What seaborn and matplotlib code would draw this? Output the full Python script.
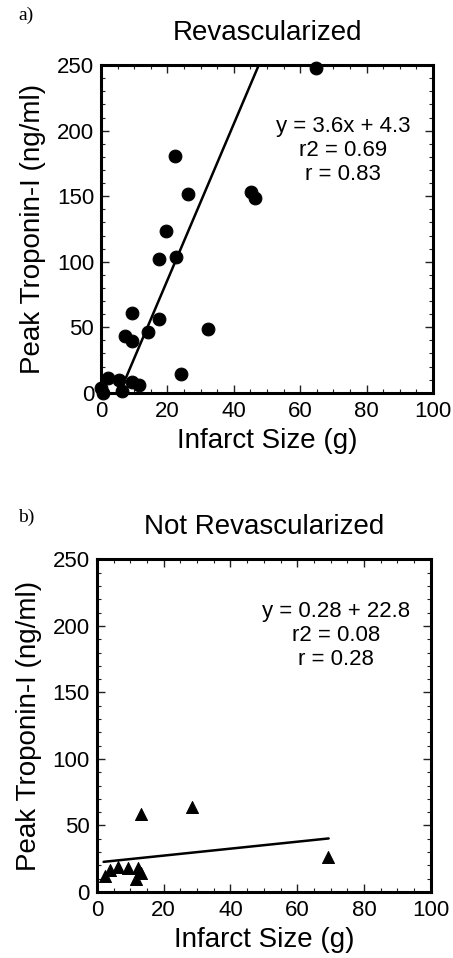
import matplotlib
matplotlib.use("Agg")
import matplotlib.pyplot as plt
from matplotlib.ticker import MultipleLocator
import seaborn as sns
import pandas as pd

# Panel a - revascularized (infarct size g, peak troponin-I ng/ml)
rev_size = [64.7, 22.3, 26.3, 45.1, 46.5, 19.7, 17.6, 22.5, 9.4, 17.6, 14.2, 7.2,
            9.2, 32.3, 24.1, 2.2, 5.5, 9.2, 11.5, 6.2, 0.0, 0.5]
rev_trop = [247.5, 180.7, 151.8, 153.0, 149.0, 123.6, 102.3, 103.6, 60.9, 56.3, 46.2, 43.1,
            39.8, 48.7, 14.0, 11.4, 9.4, 8.4, 6.3, 1.3, 3.8, 0.0]
rev_fit_x = [7.5, 47.5]
rev_fit_y = [11.4, 250.0]
rev_text = "y = 3.6x + 4.3\nr2 = 0.69\nr = 0.83"

# Panel b - not revascularized
norev_size = [13.3, 28.6, 69.1, 2.3, 3.8, 6.3, 9.3, 12.3, 13.1, 11.8]
norev_trop = [58.3, 63.6, 25.9, 12.0, 16.8, 18.8, 18.0, 18.3, 14.3, 10.0]
norev_fit_x = [2.0, 69.4]
norev_fit_y = [22.6, 40.2]
norev_text = "y = 0.28 + 22.8\nr2 = 0.08\nr = 0.28"

sns.set_style("ticks")
plt.rcParams["font.family"] = ["Liberation Sans", "DejaVu Sans"]
plt.rcParams["text.color"] = "black"
plt.rcParams["axes.labelcolor"] = "black"
plt.rcParams["xtick.color"] = "black"
plt.rcParams["ytick.color"] = "black"

fig = plt.figure(figsize=(4.53, 9.58), dpi=100)
ax_a = fig.add_axes([0.223, 0.590, 0.733, 0.342])
ax_b = fig.add_axes([0.214, 0.069, 0.737, 0.347])


def style_axes(ax, title):
    ax.set_xlim(0, 100)
    ax.set_ylim(0, 250)
    ax.xaxis.set_major_locator(MultipleLocator(20))
    ax.xaxis.set_minor_locator(MultipleLocator(5))
    ax.yaxis.set_major_locator(MultipleLocator(50))
    ax.yaxis.set_minor_locator(MultipleLocator(10))
    ax.tick_params(which="both", direction="in", top=True, right=True, color="#222222",
                   labelcolor="black")
    ax.tick_params(which="major", length=6, width=1, labelsize=16)
    ax.tick_params(axis="x", which="major", pad=6)
    ax.tick_params(axis="y", which="major", pad=5)
    ax.tick_params(which="minor", length=3, width=0.8)
    for sp in ax.spines.values():
        sp.set_linewidth(2.2)
        sp.set_color("black")
    ax.set_xlabel("Infarct Size (g)", fontsize=20, labelpad=4, color="black")
    ax.set_ylabel("Peak Troponin-I (ng/ml)", fontsize=20, labelpad=8, color="black")
    ax.set_title(title, fontsize=20, pad=18, color="black")


df_a = pd.DataFrame({"size": rev_size, "trop": rev_trop})
sns.scatterplot(data=df_a, x="size", y="trop", ax=ax_a, color="black", marker="o",
                s=85, edgecolor="black", clip_on=False, zorder=3)
sns.lineplot(x=rev_fit_x, y=rev_fit_y, ax=ax_a, color="black", linewidth=1.8)
ax_a.text(73, 185, rev_text, ha="center", va="center", fontsize=16, linespacing=1.2)
style_axes(ax_a, "Revascularized")

df_b = pd.DataFrame({"size": norev_size, "trop": norev_trop})
sns.scatterplot(data=df_b, x="size", y="trop", ax=ax_b, color="black", marker="^",
                s=75, edgecolor="black", clip_on=False, zorder=3)
sns.lineplot(x=norev_fit_x, y=norev_fit_y, ax=ax_b, color="black", linewidth=1.8)
ax_b.text(71.5, 193, norev_text, ha="center", va="center", fontsize=16, linespacing=1.2)
style_axes(ax_b, "Not Revascularized")

fig.text(0.04, 0.984, "a)", fontsize=14, family="Liberation Serif", va="center")
fig.text(0.04, 0.460, "b)", fontsize=14, family="Liberation Serif", va="center")

fig.savefig("out.png", dpi=100)
